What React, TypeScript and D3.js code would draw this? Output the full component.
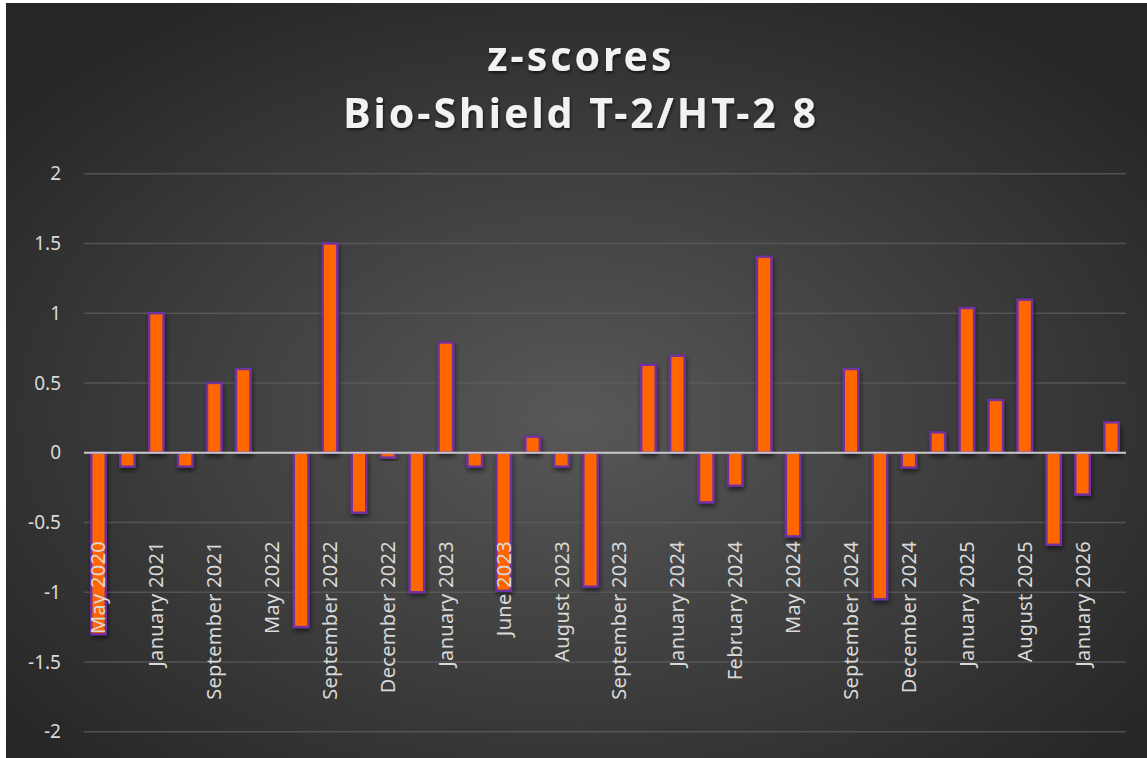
import React from "react";
import * as d3 from "d3";

const categories: string[] = [
  "May 2020", "", "January 2021", "", "September 2021", "", "May 2022", "",
  "September 2022", "", "December 2022", "", "January 2023", "", "June 2023", "",
  "August 2023", "", "September 2023", "", "January 2024", "", "February 2024", "",
  "May 2024", "", "September 2024", "", "December 2024", "", "January 2025", "",
  "August 2025", "", "January 2026", "",
];
const zscores: number[] = [
  -1.3, -0.1, 1.0, -0.1, 0.5, 0.6, 0, -1.25,
  1.5, -0.43, -0.035, -1.0, 0.79, -0.1, -0.99, 0.115,
  -0.1, -0.96, 0, 0.63, 0.695, -0.356, -0.237, 1.405,
  -0.6, 0, 0.6, -1.05, -0.107, 0.146, 1.037, 0.378,
  1.097, -0.66, -0.3, 0.218,
];
const yTicks: number[] = [2, 1.5, 1, 0.5, 0, -0.5, -1, -1.5, -2];
const titleLines: string[] = ["z-scores", "Bio-Shield T-2/HT-2 8"];

export default function App() {
  const W = 1147, H = 758;
  const left = 84, right = 1126, top = 173.7, bottom = 731.7;
  const x = d3.scaleBand<number>().domain(d3.range(categories.length)).range([left, right]).paddingInner(0.5).paddingOuter(0.25);
  const y = d3.scaleLinear().domain([-2, 2]).range([bottom, top]);
  const font = "'Noto Sans', 'Open Sans', sans-serif";
  return (
    <svg width={W} height={H} style={{ position: "fixed", left: 0, top: 0 }} xmlns="http://www.w3.org/2000/svg">
      <defs>
        <radialGradient id="bg" cx="50%" cy="55%" r="65%">
          <stop offset="0%" stopColor="#585858" />
          <stop offset="100%" stopColor="#262626" />
        </radialGradient>
        <filter id="sh" x="-50%" y="-50%" width="200%" height="200%">
          <feDropShadow dx="1" dy="3" stdDeviation="2.5" floodColor="#000" floodOpacity="0.55" />
        </filter>
        <filter id="tsh" x="-10%" y="-30%" width="120%" height="160%">
          <feDropShadow dx="1" dy="2" stdDeviation="1.5" floodColor="#000" floodOpacity="0.6" />
        </filter>
      </defs>
      <rect x={0} y={0} width={W} height={H} fill="#ffffff" />
      <rect x={6} y={3} width={W - 6} height={H - 3} fill="url(#bg)" />
      {titleLines.map((t, i) => (
        <text key={i} x={581} y={[71, 128][i]} textAnchor="middle" fill="#f2f2f2" fontFamily={font}
          fontWeight={700} fontSize={41} letterSpacing={3} filter="url(#tsh)">{t}</text>
      ))}
      {yTicks.map((t) => (
        <g key={t}>
          {t !== 0 && <line x1={left} x2={right} y1={y(t)} y2={y(t)} stroke="#5f5f5f" strokeOpacity={0.75} strokeWidth={1.5} />}
          <text x={61} y={y(t)} dy="0.35em" textAnchor="end" fill="#d9d9d9" fontFamily={font} fontSize={19}>{t}</text>
        </g>
      ))}
      {zscores.map((v, i) => {
        const y0 = y(0), y1 = y(v);
        return (
          <rect key={i} x={x(i)!} y={Math.min(y0, y1)} width={x.bandwidth()} height={Math.abs(y1 - y0)}
            fill="#FF6600" stroke="#7030A0" strokeWidth={2.4} filter="url(#sh)" />
        );
      })}
      <line x1={left} x2={right} y1={y(0)} y2={y(0)} stroke="#c8c8c8" strokeWidth={2} />
      {categories.map((c, i) => c ? (
        <text key={i} transform={`translate(${x(i)! + x.bandwidth() / 2},541) rotate(-90)`} dy="0.35em"
          textAnchor="end" fill="#d9d9d9" fontFamily={font} fontSize={20} letterSpacing={0.3}>{c}</text>
      ) : null)}
    </svg>
  );
}
